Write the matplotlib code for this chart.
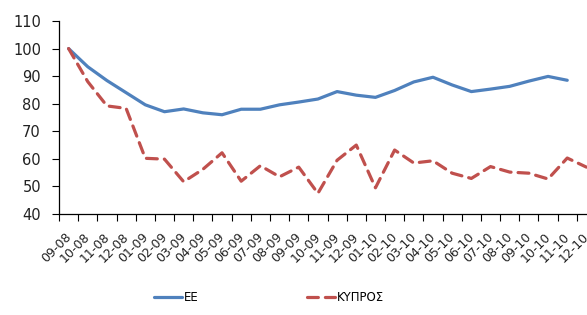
import numpy as np
import matplotlib
matplotlib.use('Agg')
import matplotlib.pyplot as plt
import matplotlib.transforms as mtransforms

# month labels (MM-YY)
months = ['09-08', '10-08', '11-08', '12-08',
          '01-09', '02-09', '03-09', '04-09', '05-09', '06-09', '07-09', '08-09',
          '09-09', '10-09', '11-09', '12-09',
          '01-10', '02-10', '03-10', '04-10', '05-10', '06-10', '07-10', '08-10',
          '09-10', '10-10', '11-10', '12-10']

# index values (EE has no value for the last month)
ee = [100, 93.4, 88.4, 84.0, 79.6, 77.1, 78.1, 76.7, 76.0, 78.0, 78.0, 79.6,
      80.6, 81.7, 84.4, 83.1, 82.3, 84.8, 87.9, 89.6, 86.8, 84.4, 85.3, 86.3,
      88.2, 89.9, 88.5, np.nan]
kypros = [100, 88.0, 79.2, 78.3, 60.2, 59.9, 51.7, 56.2, 62.2, 51.9, 57.5, 53.5,
          57.0, 47.5, 59.5, 65.0, 49.5, 63.2, 58.5, 59.3, 54.8, 52.9, 57.2, 55.2,
          54.8, 52.7, 60.3, 57.0]

fig = plt.figure(figsize=(5.87, 3.15), dpi=100)
# plot area runs past the right edge of the picture, like the source
ax = fig.add_axes([59 / 587, 101 / 315, 537 / 587, 193 / 315])

x = np.arange(len(months))
ax.plot(x, ee, color='#4F81BD', lw=2.3, label='ΕΕ', solid_capstyle='round')
ax.plot(x, kypros, color='#C0504D', lw=2.3, dashes=(3.4, 2.2), label='ΚΥΠΡΟΣ',
        dash_capstyle='round')

ax.set_xlim(-0.5, len(months) - 0.5)
ax.set_ylim(40, 110)
ax.set_yticks(np.arange(40, 111, 10))

ax.set_xticks(x)
ax.set_xticklabels(months, rotation=45, ha='right', rotation_mode='anchor')
ax.set_xticks(np.arange(-0.5, len(months)), minor=True)
ax.tick_params(axis='x', which='major', length=0, pad=12, labelsize=9, colors='#222222')
ax.tick_params(axis='x', which='minor', length=5, width=0.8, direction='out')
ax.tick_params(axis='y', length=5, width=0.8, labelsize=10.5, colors='#222222', pad=8)
ax.tick_params(axis='both', which='both', color='black')

# nudge the slanted month labels a little to the left
shift = mtransforms.ScaledTranslation(-4 / 100, 0, fig.dpi_scale_trans)
for lab in ax.get_xticklabels():
    lab.set_transform(lab.get_transform() + shift)

for s in ['top', 'right']:
    ax.spines[s].set_visible(False)
for s in ['left', 'bottom']:
    ax.spines[s].set_linewidth(0.9)

fig.legend(loc='lower left', bbox_to_anchor=(143 / 587, 0.0), ncol=2, frameon=False,
           fontsize=8.5, handlelength=2.4, handletextpad=0.2, columnspacing=9.1)

fig.savefig('out.png', dpi=100)
